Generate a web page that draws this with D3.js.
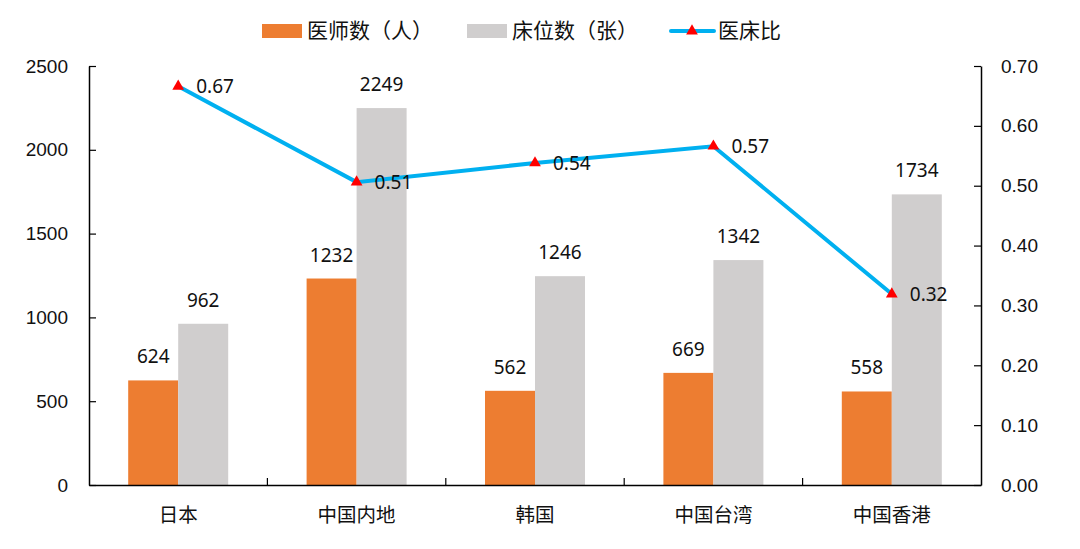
<!DOCTYPE html>
<html>
<head>
<meta charset="utf-8">
<script src="https://d3js.org/d3.v7.min.js"></script>
<style>
    body { margin: 0; background: #fff; }
    svg { font-family: "Noto Sans", "Noto Sans CJK SC", sans-serif; }
    .cjk { font-family: "Noto Sans CJK SC", sans-serif; }
</style>
</head>
<body>
<svg width="1080" height="549"></svg>
<script>
    const categories = ["日本", "中国内地", "韩国", "中国台湾", "中国香港"];
    const doctors = [624, 1232, 562, 669, 558];
    const beds = [962, 2249, 1246, 1342, 1734];
    const ratio = [0.666, 0.506, 0.538, 0.566, 0.319];
    const leftTicks = [0, 500, 1000, 1500, 2000, 2500];
    const rightTicks = [0, 0.1, 0.2, 0.3, 0.4, 0.5, 0.6, 0.7];
    const seriesNames = ["医师数（人）", "床位数（张）", "医床比"];

    const colOrange = "#ED7D31", colGray = "#D0CECE", colBlue = "#00B0F0";

    const svg = d3.select("svg");
    const margin = { left: 89, right: 99, top: 66, bottom: 64 };
    const W = 1080, H = 549;
    const innerW = W - margin.left - margin.right;
    const innerH = H - margin.top - margin.bottom;
    const g = svg.append("g").attr("transform", `translate(${margin.left},${margin.top})`);

    const x = d3.scaleBand().domain(categories).range([0, innerW]);
    const yL = d3.scaleLinear().domain([0, 2500]).range([innerH, 0]);
    const yR = d3.scaleLinear().domain([0, 0.7]).range([innerH, 0]);
    const barW = 50;
    const fs = 19;

    // bars
    const groups = g.selectAll(".cat").data(categories).enter().append("g")
        .attr("transform", d => `translate(${x(d) + x.bandwidth() / 2},0)`);

    groups.append("rect")
        .attr("x", -barW).attr("width", barW)
        .attr("y", (d, i) => yL(doctors[i]))
        .attr("height", (d, i) => innerH - yL(doctors[i]))
        .attr("fill", colOrange);
    groups.append("rect")
        .attr("x", 0).attr("width", barW)
        .attr("y", (d, i) => yL(beds[i]))
        .attr("height", (d, i) => innerH - yL(beds[i]))
        .attr("fill", colGray);

    groups.append("text")
        .attr("x", -barW / 2).attr("y", (d, i) => yL(doctors[i]) - 17)
        .attr("text-anchor", "middle").attr("font-size", fs).attr("fill", "#111")
        .text((d, i) => doctors[i]);
    groups.append("text")
        .attr("x", barW / 2).attr("y", (d, i) => yL(beds[i]) - 17)
        .attr("text-anchor", "middle").attr("font-size", fs).attr("fill", "#111")
        .text((d, i) => beds[i]);

    // axes
    const axL = g.append("g").call(d3.axisLeft(yL).tickValues(leftTicks).tickFormat(d3.format("d"))
        .tickSizeInner(-7).tickSizeOuter(0).tickPadding(21));
    const axR = g.append("g").attr("transform", `translate(${innerW},0)`)
        .call(d3.axisRight(yR).tickValues(rightTicks).tickSizeInner(-7).tickSizeOuter(0).tickPadding(20).tickFormat(d3.format(".2f")));
    const axB = g.append("g").attr("transform", `translate(0,${innerH})`)
        .call(d3.axisBottom(x).tickSize(0).tickPadding(23));
    [axL, axR, axB].forEach(a => {
        a.select(".domain").attr("stroke", "#000").attr("stroke-width", 1.5);
        a.selectAll(".tick line").attr("stroke", "#000").attr("stroke-width", 1.2);
        a.selectAll("text").attr("font-size", fs).attr("fill", "#111");
    });
    axB.selectAll("text").attr("class", "cjk").attr("font-size", 19.5);
    // category separators
    g.append("g").selectAll("line").data(categories.slice(1)).enter().append("line")
        .attr("x1", d => x(d)).attr("x2", d => x(d))
        .attr("y1", innerH).attr("y2", innerH - 7)
        .attr("stroke", "#000").attr("stroke-width", 1.2);

    // line
    const cx = d => x(d) + x.bandwidth() / 2;
    g.append("path")
        .datum(categories)
        .attr("fill", "none").attr("stroke", colBlue).attr("stroke-width", 4)
        .attr("d", d3.line().x(d => cx(d)).y((d, i) => yR(ratio[i])));
    const tri = d3.symbol().type(d3.symbolTriangle).size(60);
    g.selectAll(".mk").data(categories).enter().append("path")
        .attr("d", tri)
        .attr("transform", (d, i) => `translate(${cx(d)},${yR(ratio[i])})`)
        .attr("fill", "#FF0000");
    g.selectAll(".rl").data(categories).enter().append("text")
        .attr("x", d => cx(d) + 18).attr("y", (d, i) => yR(ratio[i]) + 7)
        .attr("font-size", fs).attr("fill", "#111")
        .text((d, i) => (Math.round(ratio[i] * 100) / 100).toFixed(2));

    // legend
    const lg = svg.append("g").attr("class", "cjk").attr("font-size", 21).attr("fill", "#111");
    lg.append("rect").attr("x", 262).attr("y", 24).attr("width", 40).attr("height", 14).attr("fill", colOrange);
    lg.append("text").attr("x", 307).attr("y", 38).text(seriesNames[0]);
    lg.append("rect").attr("x", 467).attr("y", 24).attr("width", 40).attr("height", 14).attr("fill", colGray);
    lg.append("text").attr("x", 512).attr("y", 38).text(seriesNames[1]);
    lg.append("line").attr("x1", 671).attr("x2", 714).attr("y1", 31).attr("y2", 31)
        .attr("stroke", colBlue).attr("stroke-width", 4).attr("stroke-linecap", "round");
    lg.append("path").attr("d", tri).attr("transform", "translate(692,31)").attr("fill", "#FF0000");
    lg.append("text").attr("x", 718).attr("y", 38).text(seriesNames[2]);
</script>
</body>
</html>
